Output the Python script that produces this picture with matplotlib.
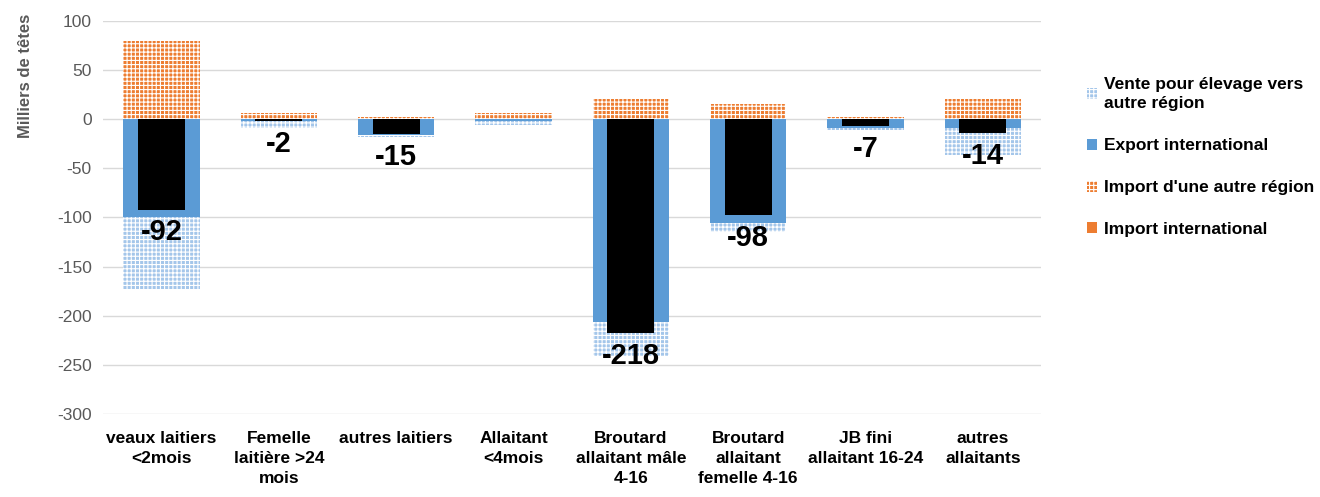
import matplotlib
matplotlib.use("Agg")
import matplotlib.pyplot as plt
import numpy as np
from matplotlib.patches import Patch
from matplotlib import font_manager

categories = ["veaux laitiers\n<2mois", "Femelle\nlaitière >24\nmois", "autres laitiers",
              "Allaitant\n<4mois", "Broutard\nallaitant mâle\n4-16", "Broutard\nallaitant\nfemelle 4-16",
              "JB fini\nallaitant 16-24", "autres\nallaitants"]
export_intl = [-100, -2, -16, -2, -206, -106, -9, -9]
vente_region = [-73, -7, -2, -4, -35, -9, -2, -27]
import_intl = [0, 0, 0, 0, 0, 0, 0, 0]
import_region = [80, 6, 2, 6, 20, 15, 2, 20]
solde = [-92, -2, -15, 0, -218, -98, -7, -14]
solde_labels = ["-92", "-2", "-15", "", "-218", "-98", "-7", "-14"]
yticks = [100, 50, 0, -50, -100, -150, -200, -250, -300]

names = {f.name for f in font_manager.fontManager.ttflist}
narrow = "Liberation Sans Narrow" if "Liberation Sans Narrow" in names else "Liberation Sans"

plt.rcParams['hatch.linewidth'] = 0.8
fig = plt.figure(figsize=(13.2, 4.97), dpi=100)
ax = fig.add_axes([0.078, 0.167, 0.711, 0.791])

x = np.arange(len(categories))
w = 0.65
blue = "#5B9BD5"
lblue = "#A4C6EA"
orange = "#ED7D31"

ax.bar(x, export_intl, w, color=blue, linewidth=0, zorder=2)
ax.bar(x, vente_region, w, bottom=export_intl, facecolor=lblue, edgecolor="white",
       hatch="++++", linewidth=0, zorder=2)
ax.bar(x, import_intl, w, color=orange, linewidth=0, zorder=2)
ax.bar(x, import_region, w, bottom=import_intl, facecolor=orange, edgecolor="white",
       hatch="++++", linewidth=0, zorder=2)
ax.bar(x, solde, 0.4, color="black", linewidth=0, zorder=3)

for xi, v, lab in zip(x, solde, solde_labels):
    if lab:
        ax.text(xi, v - 9, lab, ha="center", va="top", fontsize=21, fontweight="bold",
                family=[narrow, "DejaVu Sans"], zorder=4)

ax.set_ylim(-300, 100)
ax.set_xlim(-0.5, len(categories) - 0.5)
ax.set_yticks(yticks)
ax.set_yticklabels([str(t) for t in yticks], fontsize=12.5, color="#595959",
                   family=["Liberation Sans", "DejaVu Sans"])
ax.set_xticks(x)
ax.set_xticklabels(categories, fontsize=12.5, fontweight="bold",
                   family=["Liberation Sans", "DejaVu Sans"], va="top", linespacing=1.45)
ax.tick_params(axis="both", length=0, pad=8)
ax.tick_params(axis="x", pad=12)
for s in ax.spines.values():
    s.set_visible(False)
ax.grid(axis="y", color="#D9D9D9", linewidth=1, zorder=0)
ax.set_axisbelow(True)
ax.set_ylabel("Milliers de têtes", fontsize=12, fontweight="bold", color="#595959",
              family=["Liberation Sans", "DejaVu Sans"])
ax.yaxis.set_label_coords(-0.075, 0.86)

handles = [
    Patch(facecolor=lblue, edgecolor="white", hatch="++++", linewidth=0, label="Vente pour élevage vers\nautre région"),
    Patch(facecolor=blue, linewidth=0, label="Export international"),
    Patch(facecolor=orange, edgecolor="white", hatch="++++", linewidth=0, label="Import d'une autre région"),
    Patch(facecolor=orange, linewidth=0, label="Import international"),
]
leg = fig.legend(handles=handles, loc="upper left", bbox_to_anchor=(0.818, 0.86), frameon=False,
                 prop={"family": ["Liberation Sans", "DejaVu Sans"], "weight": "bold", "size": 12.5},
                 handlelength=0.6, handleheight=0.6, handletextpad=0.4, labelspacing=1.55,
                 borderaxespad=0)
for t in leg.get_texts():
    t.set_linespacing(1.4)

fig.savefig("out.png", dpi=100)
